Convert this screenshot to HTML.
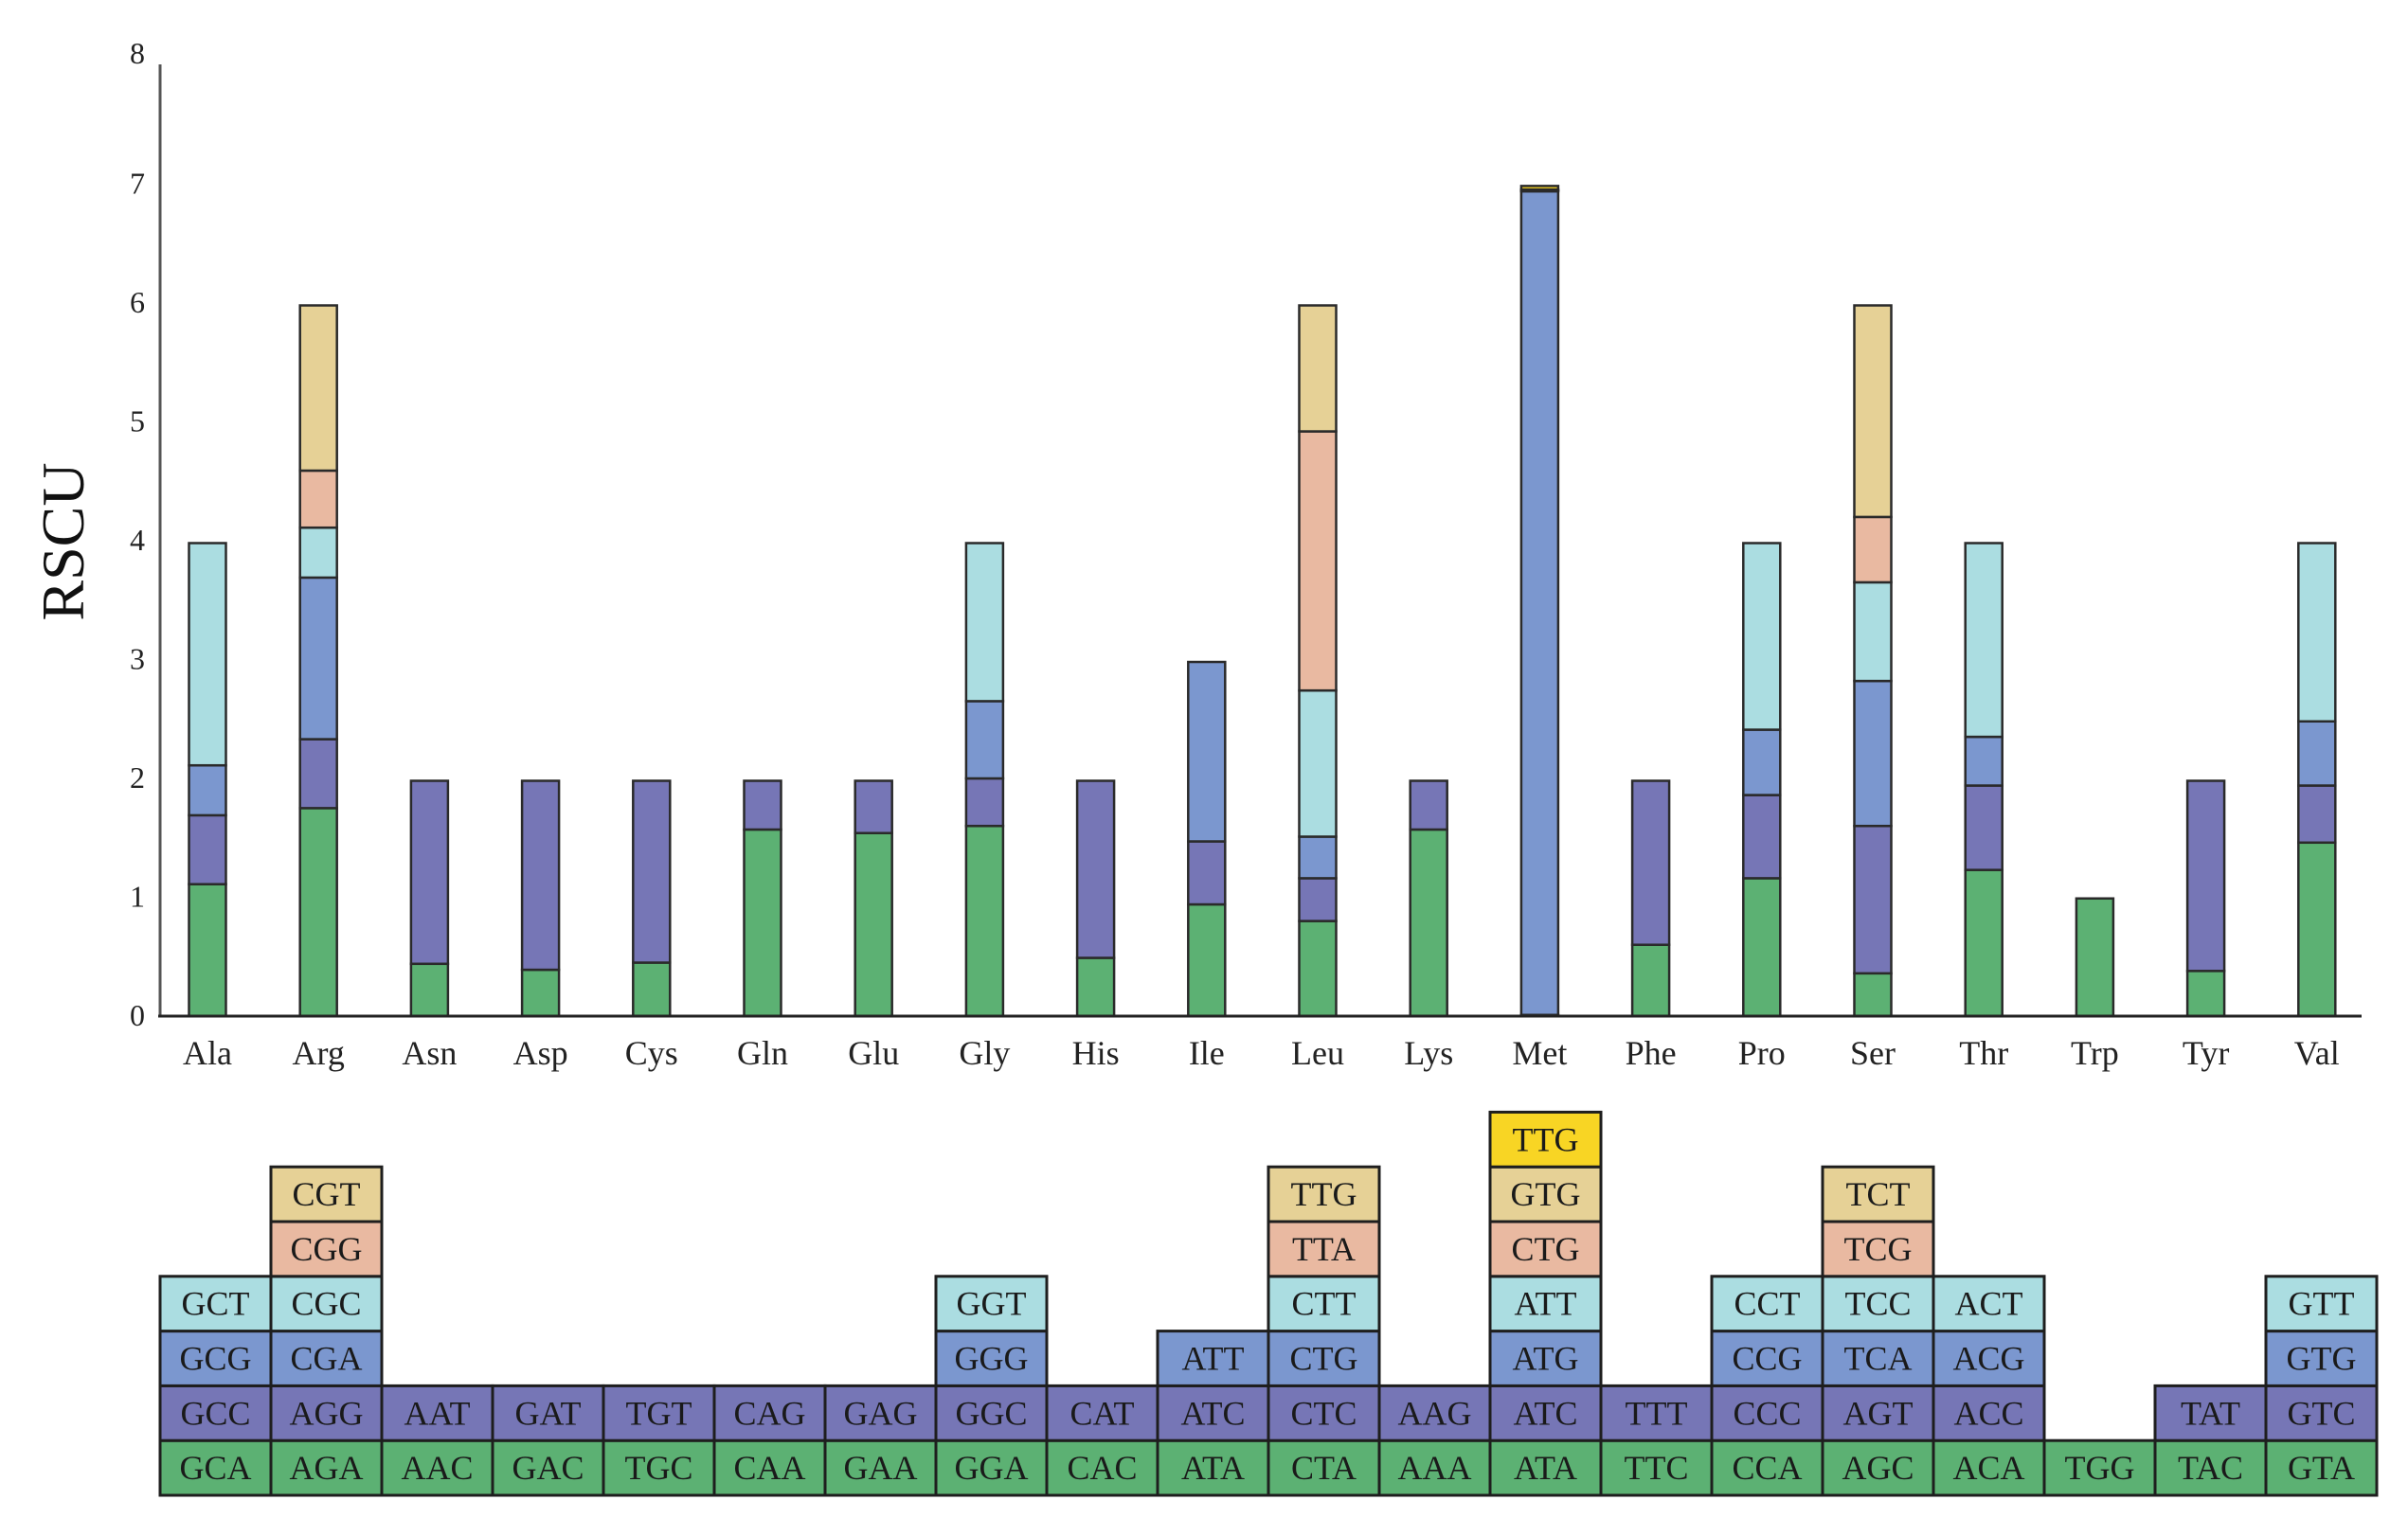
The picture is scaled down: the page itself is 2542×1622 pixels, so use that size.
<!DOCTYPE html>
<html><head><meta charset="utf-8"><style>
html,body{margin:0;padding:0;background:#fff;}
svg{display:block;font-family:"Liberation Serif",serif;}
</style></head><body>
<svg id="chart" width="2542" height="1622" viewBox="0 0 2542 1622">
<g id="bars"></g>
<g id="axes"></g>
<g id="table"></g>
</svg>
<script>
const aminoAcids = ["Ala","Arg","Asn","Asp","Cys","Gln","Glu","Gly","His","Ile","Leu","Lys","Met","Phe","Pro","Ser","Thr","Trp","Tyr","Val"];
// RSCU segments bottom-up per amino acid
const rscuValues = [
 [1.11,0.58,0.42,1.87],
 [1.75,0.58,1.36,0.42,0.48,1.39],
 [0.44,1.54],
 [0.39,1.59],
 [0.45,1.53],
 [1.57,0.41],
 [1.54,0.44],
 [1.60,0.40,0.65,1.33],
 [0.49,1.49],
 [0.94,0.53,1.51],
 [0.80,0.36,0.35,1.23,2.18,1.06],
 [1.57,0.41],
 [0.005,0.005,6.93,0.005,0.005,0.005,0.03],
 [0.60,1.38],
 [1.16,0.70,0.55,1.57],
 [0.36,1.24,1.22,0.83,0.55,1.78],
 [1.23,0.71,0.41,1.63],
 [0.99],
 [0.38,1.60],
 [1.46,0.48,0.54,1.50]
];
const codons = [
 ["GCA","GCC","GCG","GCT"],
 ["AGA","AGG","CGA","CGC","CGG","CGT"],
 ["AAC","AAT"],["GAC","GAT"],["TGC","TGT"],["CAA","CAG"],["GAA","GAG"],
 ["GGA","GGC","GGG","GGT"],["CAC","CAT"],["ATA","ATC","ATT"],
 ["CTA","CTC","CTG","CTT","TTA","TTG"],["AAA","AAG"],
 ["ATA","ATC","ATG","ATT","CTG","GTG","TTG"],["TTC","TTT"],
 ["CCA","CCC","CCG","CCT"],["AGC","AGT","TCA","TCC","TCG","TCT"],
 ["ACA","ACC","ACG","ACT"],["TGG"],["TAC","TAT"],["GTA","GTC","GTG","GTT"]
];
const yTicks = [0,1,2,3,4,5,6,7,8];
const colors = ["#5cb173","#7676b6","#7b97cf","#abdde1","#e9b9a1","#e6d196","#f8d524"];
const NS="http://www.w3.org/2000/svg";
function el(tag,attrs,parent){const e=document.createElementNS(NS,tag);for(const k in attrs)e.setAttribute(k,attrs[k]);parent.appendChild(e);return e;}
const x0=219, step=117.2, y0=1073, unit=125.5, bw=39, tstep=117.0;
const xPos=i=>x0+i*step;
const yPos=v=>y0-v*unit;
const bars=document.getElementById('bars'), axes=document.getElementById('axes'), table=document.getElementById('table');
aminoAcids.forEach((aa,i)=>{
  let cum=0;
  rscuValues[i].forEach((v,j)=>{
    const r=el('rect',{x:xPos(i)-bw/2,y:yPos(cum+v),width:bw,height:v*unit,fill:colors[j],stroke:"#2a2a2a","stroke-width":2.5},bars);
    
    
    cum+=v;
  });
  const t=el('text',{x:xPos(i),y:1124,"font-size":36,"text-anchor":"middle",fill:"#222"},axes);
  t.textContent=aa;
  
  
  const left=169+i*tstep, rowH=57.8, bottom=1579;
  codons[i].forEach((c,j)=>{
    const top=bottom-(j+1)*rowH;
    const r=el('rect',{x:left,y:top,width:tstep,height:rowH,fill:colors[j],stroke:"#1e1e1e","stroke-width":3},table);
    
    
    const t2=el('text',{x:left+tstep/2,y:top+rowH/2+12,"font-size":36,"text-anchor":"middle",fill:"#1a1a1a"},table);
    t2.textContent=c;
    
    
  });
});
const ya=el('line',{x1:169,y1:68,x2:169,y2:y0,stroke:"#555","stroke-width":3},axes);


const xa=el('line',{x1:167,y1:y0,x2:2493,y2:y0,stroke:"#222","stroke-width":3},axes);


yTicks.forEach(v=>{
  const t=el('text',{x:145,y:yPos(v)+10-(v===8?12:0),"font-size":32,"text-anchor":"middle",fill:"#222"},axes);
  t.textContent=v;
  
  
});
const yt=el('text',{x:0,y:0,"font-size":64,"text-anchor":"middle",fill:"#111",transform:"translate(88,572) rotate(-90)"},axes);
yt.textContent="RSCU";


</script>
</body></html>
